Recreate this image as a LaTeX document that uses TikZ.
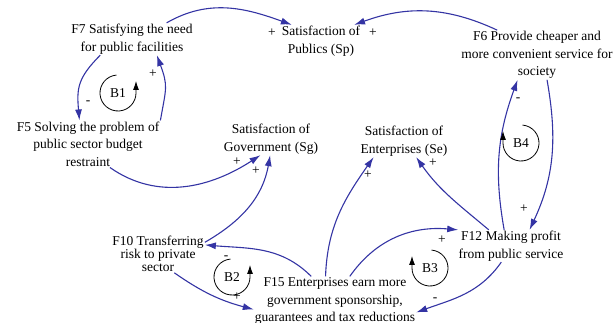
\documentclass[tikz,border=0pt]{standalone}
\usepackage{fontspec}
\setmainfont{Liberation Serif}
\usetikzlibrary{arrows.meta}

\begin{document}
\begin{tikzpicture}[x=1pt,y=1pt,
  myvar/.style={align=center,inner sep=1pt,font=\fontsize{13.5}{17.5}\selectfont},
  mysign/.style={inner sep=0pt,font=\fontsize{13.5}{15}\selectfont},
  mylink/.style={draw=linkblue,line width=1.1pt,-{Latex[length=11pt,width=7pt]}},
  myloop/.style={draw=black,line width=0.8pt,-{Latex[length=9pt,width=6pt]}}]
\definecolor{linkblue}{HTML}{3434A4}
\useasboundingbox (0,0) rectangle (614,323);
\node[myvar] (sp) at (321,282) {Satisfaction of\\Publics (Sp)};
\node[myvar] (f7) at (132,284) {F7 Satisfying the need\\for public facilities};
\node[myvar] (f6) at (537,268) {F6 Provide cheaper and\\more convenient service for\\society};
\node[myvar] (f5) at (88,179) {F5 Solving the problem of\\public sector budget\\restraint};
\node[myvar] (sg) at (271,184) {Satisfaction of\\Government (Sg)};
\node[myvar] (se) at (404,182) {Satisfaction of\\Enterprises (Se)};
\node[myvar,font=\fontsize{13.5}{12.8}\selectfont] (f10) at (158,69) {F10 Transferring\\risk to private\\sector};
\node[myvar] (f12) at (511,77) {F12 Making profit\\from public service};
\node[myvar] (f15) at (335,22) {F15 Enterprises earn more\\government sponsorship,\\guarantees and tax reductions};

\draw[mylink] (f7.25) to[out=30,in=160] (sp.151);
\draw[mylink] (f6.148) to[out=155,in=20] (sp.26);
\draw[mylink] (f7.207) to[out=225,in=95,looseness=1.2] (f5.110);
\draw[mylink] (f5.18) to[out=80,in=-70,looseness=1.3] (f7.-33);
\draw[mylink] (f5.-47) to[out=-35,in=213] (sg.237);
\draw[mylink] (f10.14) to[out=30,in=260] (sg.267);
\draw[mylink] (f10.-49) to[out=-35,in=165] (f15.186);
\draw[mylink] (f15.134) to[out=135,in=-5] (f10.11);
\draw[mylink] (f15.111) to[out=88,in=235] (se.208);
\draw[mylink] (f15.59) to[out=55,in=175] (f12.163);
\draw[mylink] (f12.144) to[out=140,in=-55] (se.-53);
\draw[mylink] (f12.113) to[out=100,in=250] (f6.232);
\draw[mylink] (f6.-68) to[out=-80,in=65] (f12.41);
\draw[mylink] (f12.239) to[out=235,in=20] (f15.-8);

\foreach \sgn/\x/\y [count=\i] in {+/272/290,+/373/290,+/153/249,-/88/220,+/237/161,+/256/152,+/368/148,
  +/433/160,-/518/223,+/524/114,+/442/83,-/435/23,-/226/65,+/237/26}
  {\node[mysign] (sign\i) at (\x,\y) {\sgn};}

\foreach \lp/\x/\y/\a/\b in {B1/118/230/95/360,B2/232/46/95/360,B3/430/55/85/-180,B4/521/180/85/-180}
  {\node[myvar] (\lp) at (\x,\y) {\lp};
   \draw[myloop] ([shift={(\a:18pt)}]\lp.center) arc (\a:\b:18pt) -- ++(0,12);}
\end{tikzpicture}
\end{document}
